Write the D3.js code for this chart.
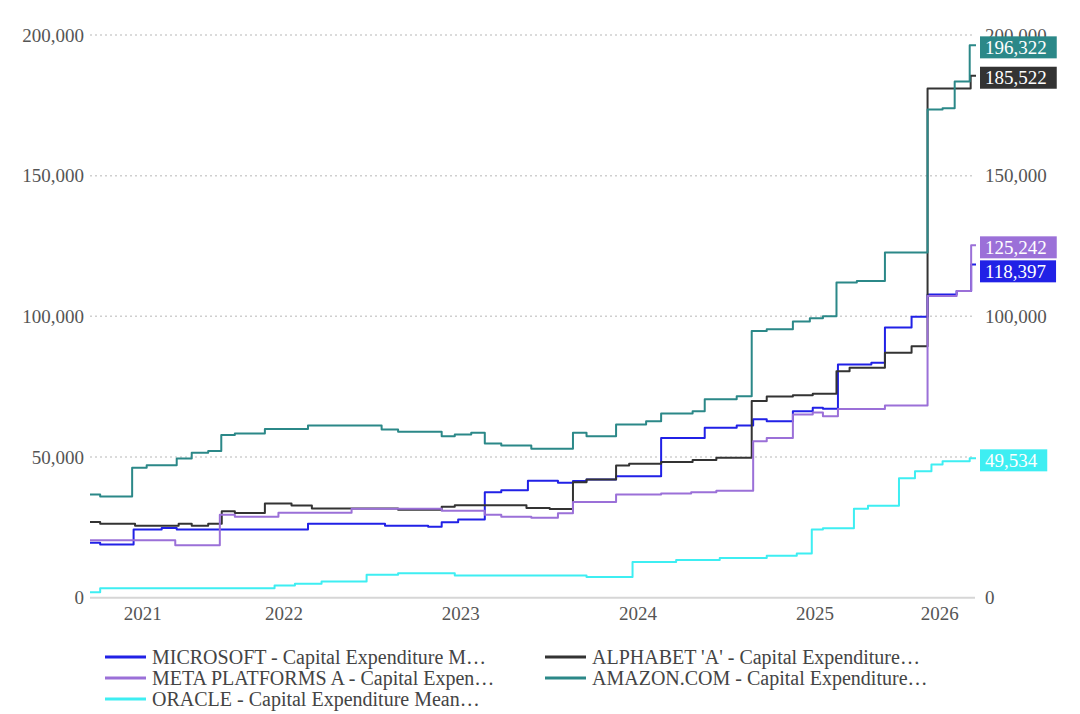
<!DOCTYPE html>
<html>
<head>
<meta charset="utf-8">
<script src="https://cdn.jsdelivr.net/npm/d3@7"></script>
<style>
  body { margin: 0; background: #fff; }
  svg { display: block; font-family: "Liberation Serif", "DejaVu Serif", serif; }
  .grid line { stroke: #cfcfcf; stroke-width: 1.5; stroke-dasharray: 2,3; }
  .axis text { fill: #555; font-size: 19px; }
  .legend text { fill: #444; font-size: 20px; }
</style>
</head>
<body>
<svg width="1080" height="714"></svg>
<script>
// consensus capex estimates (USD m), step series
const microsoft = [
  ["2021-05-28", 19500], ["2021-06-18", 18900], ["2021-08-26", 24200], ["2021-10-23", 24800],
  ["2021-11-23", 24200], ["2022-08-21", 26300], ["2023-01-27", 25600], ["2023-04-26", 25200],
  ["2023-05-24", 26800], ["2023-06-27", 27800], ["2023-08-21", 37500], ["2023-09-24", 38200],
  ["2023-11-18", 41600], ["2024-01-19", 40900], ["2024-02-19", 41500], ["2024-03-18", 42000],
  ["2024-05-18", 43200], ["2024-08-19", 56800], ["2024-11-17", 60400], ["2025-01-22", 61200],
  ["2025-02-25", 63400], ["2025-03-25", 62700], ["2025-05-18", 66300], ["2025-06-28", 67500],
  ["2025-07-19", 67200], ["2025-08-19", 82900], ["2025-10-27", 83500], ["2025-11-24", 96000],
  ["2026-01-18", 99900], ["2026-02-20", 107800], ["2026-04-21", 109000], ["2026-05-21", 118397],
  ["2026-05-31", 118397]
];
const alphabet = [
  ["2021-05-28", 26900], ["2021-06-18", 26300], ["2021-08-29", 25600], ["2021-11-27", 26300],
  ["2021-12-24", 25600], ["2022-01-27", 26300], ["2022-02-24", 30700], ["2022-03-23", 30100],
  ["2022-05-24", 33500], ["2022-07-18", 32800], ["2022-08-29", 31700], ["2023-02-23", 31300],
  ["2023-05-24", 32300], ["2023-06-20", 32900], ["2023-11-15", 31900], ["2024-01-02", 31500],
  ["2024-02-19", 41000], ["2024-03-18", 42000], ["2024-05-18", 47000], ["2024-06-14", 47600],
  ["2024-08-19", 48200], ["2024-10-23", 48900], ["2024-12-11", 49700], ["2025-02-22", 69900],
  ["2025-03-25", 71500], ["2025-05-18", 72000], ["2025-06-28", 72500], ["2025-08-16", 80500],
  ["2025-09-12", 81700], ["2025-11-24", 87100], ["2026-01-18", 89400], ["2026-02-20", 181000],
  ["2026-05-20", 185522], ["2026-05-31", 185522]
];
const meta = [
  ["2021-05-28", 20400], ["2021-11-20", 18600], ["2022-02-20", 29500], ["2022-03-23", 28800],
  ["2022-06-21", 30200], ["2022-11-19", 31600], ["2023-05-24", 30900], ["2023-08-21", 29500],
  ["2023-09-24", 28800], ["2023-11-25", 28400], ["2024-01-19", 30000], ["2024-02-19", 34000],
  ["2024-05-18", 36700], ["2024-08-19", 37000], ["2024-10-20", 37500], ["2024-12-11", 38000],
  ["2025-02-25", 55600], ["2025-03-25", 56800], ["2025-05-18", 65100], ["2025-06-28", 65800],
  ["2025-07-19", 64500], ["2025-08-19", 67100], ["2025-11-24", 68300], ["2026-02-20", 107200],
  ["2026-04-21", 109000], ["2026-05-21", 125242], ["2026-05-31", 125242]
];
const amazon = [
  ["2021-05-28", 36700], ["2021-06-18", 36000], ["2021-08-23", 46200], ["2021-09-22", 47100],
  ["2021-11-23", 49500], ["2021-12-24", 51500], ["2022-01-27", 52100], ["2022-02-23", 57800],
  ["2022-03-23", 58400], ["2022-05-24", 60000], ["2022-08-21", 61200], ["2023-01-20", 59800],
  ["2023-02-23", 59000], ["2023-05-24", 57400], ["2023-06-20", 58000], ["2023-07-24", 58600],
  ["2023-08-21", 54800], ["2023-09-24", 54100], ["2023-11-25", 52900], ["2024-02-19", 58600],
  ["2024-03-18", 57400], ["2024-05-18", 61600], ["2024-07-19", 62700], ["2024-08-19", 65500],
  ["2024-10-23", 66300], ["2024-11-17", 70500], ["2025-01-22", 71600], ["2025-02-22", 94800],
  ["2025-03-25", 95400], ["2025-05-18", 98200], ["2025-06-22", 99300], ["2025-07-19", 100000],
  ["2025-08-16", 112000], ["2025-09-27", 112600], ["2025-11-24", 122700], ["2026-02-20", 173500],
  ["2026-03-23", 174000], ["2026-04-17", 183500], ["2026-05-18", 196322], ["2026-05-31", 196322]
];
const oracle = [
  ["2021-05-28", 1900], ["2021-06-18", 3400], ["2022-06-13", 4300], ["2022-07-25", 5000],
  ["2022-09-18", 5800], ["2022-12-20", 8200], ["2023-02-23", 8700], ["2023-06-20", 7900],
  ["2024-03-18", 7400], ["2024-06-21", 12700], ["2024-09-19", 13400], ["2024-12-18", 14100],
  ["2025-03-25", 14900], ["2025-05-26", 15700], ["2025-06-26", 24200], ["2025-07-19", 24700],
  ["2025-09-21", 31600], ["2025-10-20", 32700], ["2025-12-23", 42500], ["2026-01-25", 44900],
  ["2026-02-28", 47300], ["2026-03-23", 48500], ["2026-05-18", 49534], ["2026-05-31", 49534]
];

const seriesNames = [
  "MICROSOFT - Capital Expenditure M…",
  "ALPHABET 'A' - Capital Expenditure…",
  "META PLATFORMS A - Capital Expen…",
  "AMAZON.COM - Capital Expenditure…",
  "ORACLE - Capital Expenditure Mean…"
];
const seriesData = [microsoft, alphabet, meta, amazon, oracle];
const colors = ["#2121e6", "#333333", "#9b70d8", "#2b8888", "#3eeef2"];
const years = [2021, 2022, 2023, 2024, 2025, 2026];
const yTicks = [0, 50000, 100000, 150000, 200000];
const yTicksRight = [0, 100000, 150000, 200000]; // 50,000 sits under the Oracle box

const parse = d3.timeParse("%Y-%m-%d");
const svg = d3.select("svg");

const mLeft = 90, mRight = 976, mTop = 35, mBottom = 597.7;

const x = d3.scaleTime()
  .domain([parse("2021-05-28"), parse("2026-05-31")])
  .range([mLeft, mRight]);
const y = d3.scaleLinear().domain([0, 200000]).range([mBottom, mTop]);

// gridlines
svg.append("g").attr("class", "grid")
  .selectAll("line")
  .data(yTicks.filter(d => d > 0))
  .join("line")
  .attr("x1", mLeft).attr("x2", mRight - 1)
  .attr("y1", d => y(d)).attr("y2", d => y(d));

svg.append("line")
  .attr("x1", mLeft).attr("x2", mRight - 1)
  .attr("y1", y(0)).attr("y2", y(0))
  .attr("stroke", "#d6d6d6").attr("stroke-width", 2);

// y axes
const fmt = d3.format(",");
svg.append("g").attr("class", "axis")
  .attr("transform", `translate(${mLeft},0)`)
  .call(d3.axisLeft(y).tickValues(yTicks).tickSize(0).tickPadding(6).tickFormat(fmt));
svg.append("g").attr("class", "axis")
  .attr("transform", `translate(${mRight - 1},0)`)
  .call(d3.axisRight(y).tickValues(yTicksRight).tickSize(0).tickPadding(10).tickFormat(fmt));
svg.selectAll(".axis .domain").remove();
svg.selectAll(".axis").attr("font-family", null).attr("font-size", null);

// x labels: centred on visible part of each year
const [d0, d1] = x.domain();
svg.append("g").attr("class", "axis")
  .selectAll("text")
  .data(years)
  .join("text")
  .attr("x", yr => {
    const a = new Date(Math.max(d0, new Date(yr, 0, 1)));
    const b = new Date(Math.min(d1, new Date(yr + 1, 0, 1)));
    return (x(a) + x(b)) / 2;
  })
  .attr("y", 620)
  .attr("text-anchor", "middle")
  .text(d => d);

// lines
const line = d3.line()
  .x(d => x(parse(d[0])))
  .y(d => y(d[1]))
  .curve(d3.curveStepAfter);

svg.append("g")
  .selectAll("path")
  .data(seriesData)
  .join("path")
  .attr("fill", "none")
  .attr("stroke", (d, i) => colors[i])
  .attr("stroke-width", 2)
  .attr("stroke-linejoin", "round")
  .attr("d", line);

// last value boxes
const labels = seriesData.map((s, i) => ({
  value: s[s.length - 1][1], color: colors[i], cy: y(s[s.length - 1][1]) + 2
})).sort((a, b) => a.cy - b.cy);
for (let i = 1; i < labels.length; i++) {
  if (labels[i].cy < labels[i - 1].cy + 24) labels[i].cy = labels[i - 1].cy + 24;
}
const lab = svg.append("g").selectAll("g").data(labels).join("g")
  .attr("transform", d => `translate(980,${d.cy})`);
lab.append("rect").attr("y", -11).attr("height", 22).attr("fill", d => d.color);
lab.append("text")
  .attr("x", 5).attr("dy", "0.34em")
  .attr("fill", "#fff").attr("font-size", 19)
  .text(d => fmt(d.value));
lab.each(function () {
  const w = d3.select(this).select("text").node().getComputedTextLength();
  d3.select(this).select("rect").attr("width", w + 15);
});

// legend
const legend = svg.append("g").attr("class", "legend")
  .selectAll("g")
  .data(seriesNames)
  .join("g")
  .attr("transform", (d, i) => `translate(${i % 2 ? 545 : 105},${657 + Math.floor(i / 2) * 21})`);
legend.append("line")
  .attr("x1", 0).attr("x2", 41)
  .attr("stroke", (d, i) => colors[i]).attr("stroke-width", 3);
legend.append("text")
  .attr("x", 47).attr("dy", "0.34em")
  .text(d => d);
</script>
</body>
</html>
